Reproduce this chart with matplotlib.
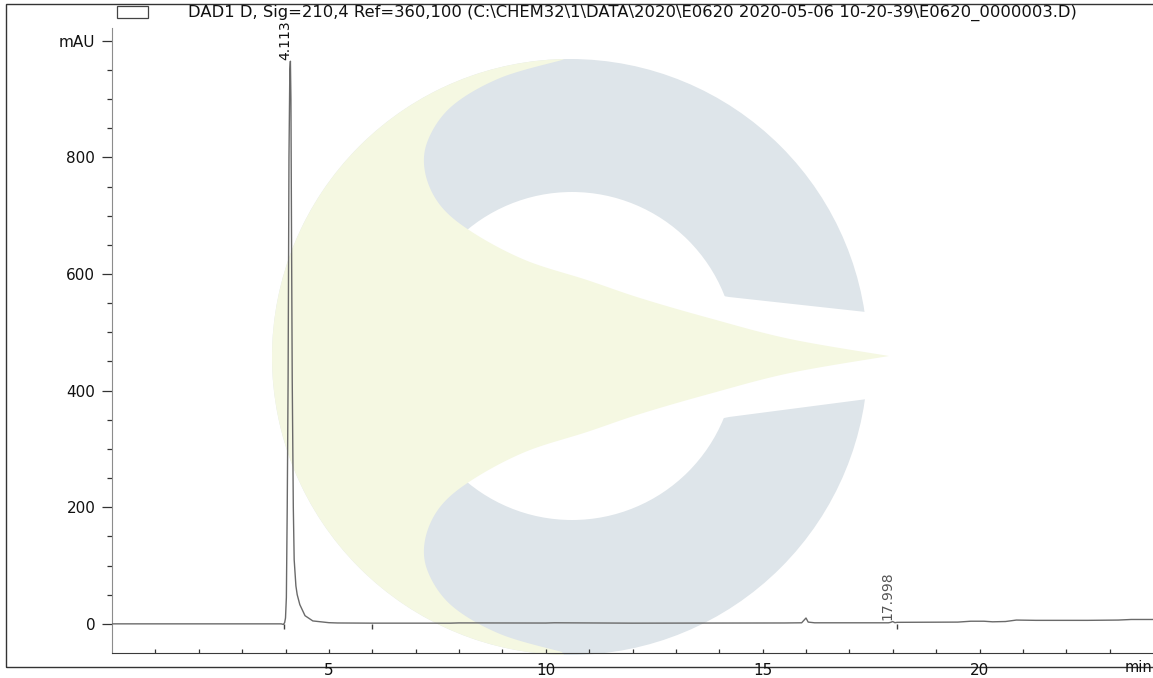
import numpy as np
import matplotlib
matplotlib.use("Agg")
import matplotlib.pyplot as plt
from matplotlib.patches import Circle, Polygon, Rectangle
from matplotlib.ticker import FixedLocator, FixedFormatter
from matplotlib.transforms import blended_transform_factory

plt.rcParams['font.family'] = ['DejaVu Sans']

# ---------------- data ----------------
title = ("DAD1 D, Sig=210,4 Ref=360,100 (C:\\CHEM32\\1\\DATA\\2020\\E0620 "
         "2020-05-06 10-20-39\\E0620_0000003.D)")

time_min = [0.0, 3.90, 3.95, 3.98, 4.00, 4.02, 4.04, 4.06, 4.08, 4.10, 4.113,
            4.125, 4.14, 4.155, 4.18, 4.20, 4.24, 4.27, 4.33, 4.45, 4.63, 5.0,
            5.2, 6.0, 7.8, 8.0, 10.0, 10.2, 12.0, 15.5, 15.9, 16.0, 16.05, 16.2,
            17.9, 17.95, 17.998, 18.05, 18.1, 19.5, 19.8, 20.1, 20.3, 20.6,
            20.85, 21.3, 22.5, 23.2, 23.5, 24.0]
signal_mau = [0.0, 0.0, -1.0, 2.0, 10.0, 45.0, 200.0, 420.0, 800.0, 950.0, 965.0,
              900.0, 650.0, 420.0, 200.0, 110.0, 65.0, 50.0, 33.0, 14.0, 5.0, 2.0,
              1.5, 1.2, 1.2, 1.6, 1.4, 1.8, 1.2, 1.5, 1.8, 10.0, 3.0, 1.8,
              1.8, 2.5, 4.0, 2.0, 2.6, 3.0, 4.5, 4.5, 3.5, 4.0,
              6.5, 6.0, 6.0, 6.5, 7.5, 7.5]

peak_times = [4.113, 17.998]
peak_heights = [965.0, 4.0]
peak_labels = ["4.113", "17.998"]
peak_label_colors = ["#111111", "#555555"]

marker_times = [3.96, 6.0, 18.09]

y_major = [0, 200, 400, 600, 800, 1000]
y_major_labels = ["0", "200", "400", "600", "800", "mAU"]
y_minor = [50, 100, 150, 250, 300, 350, 450, 500, 550, 650, 700, 750,
           850, 900, 950]
x_major = [5, 10, 15, 20]
x_minor = [1, 2, 3, 4, 6, 7, 8, 9, 11, 12, 13, 14, 16, 17, 18, 19, 21, 22, 23]


def catmull(points, n=12):
    """Smooth decorative outline through control points."""
    p = np.asarray(points, float)
    p = np.vstack([p[0], p, p[-1]])
    out = []
    for i in range(1, len(p) - 2):
        p0, p1, p2, p3 = p[i - 1], p[i], p[i + 1], p[i + 2]
        for s in np.linspace(0, 1, n, endpoint=False):
            out.append(0.5 * ((2 * p1) + (-p0 + p2) * s +
                              (2 * p0 - 5 * p1 + 4 * p2 - p3) * s ** 2 +
                              (-p0 + 3 * p1 - 3 * p2 + p3) * s ** 3))
    out.append(p[-2])
    return np.array(out)


# ---------------- figure ----------------
W, H = 1153, 678
fig = plt.figure(figsize=(W / 100, H / 100), dpi=100)

# watermark (background decoration, in figure pixel coordinates)
BLUE = "#dee5ea"
YELLOW = "#f5f8e2"
bg = fig.add_axes([0, 0, 1, 1], zorder=0)
bg.set_xlim(0, W)
bg.set_ylim(H, 0)
bg.axis("off")
cx, cy, r = 570, 357, 298
bg.add_patch(Circle((cx, cy), r, fc=BLUE, ec="none"))
bg.add_patch(Circle((572, 356), 164, fc="white", ec="none"))
bg.add_patch(Polygon([(690, 290), (729, 297), (875, 313), (875, 398),
                      (729, 417), (690, 425)], closed=True, fc="white", ec="none"))
theta = np.linspace(-np.pi / 2 - 0.02, -3 * np.pi / 2 + 0.02, 120)
arc = np.c_[cx + r * np.cos(theta), cy + r * np.sin(theta)]
upper_ctrl = [(889, 356), (790, 339), (709, 318), (640, 298), (587, 280),
              (525, 260), (472, 232), (440, 205), (425, 172), (428, 140),
              (452, 106), (500, 78), (562, 60)]
lower_ctrl = [(x, 2 * 356 - y) for x, y in upper_ctrl][::-1]
yellow = np.vstack([arc, catmull(lower_ctrl), catmull(upper_ctrl)])
bg.add_patch(Polygon(yellow, closed=True, fc=YELLOW, ec="none"))

# outer frame and legend box
fig.add_artist(Rectangle((6 / W, (H - 667) / H), 1.2, (667 - 4) / H,
                         transform=fig.transFigure, fill=False,
                         ec="#333333", lw=1.0))
fig.add_artist(Rectangle((117 / W, (H - 18) / H), 31 / W, 12 / H,
                         transform=fig.transFigure, fc="white",
                         ec="#444444", lw=0.9))
fig.text(188 / W, 1 - 12.5 / H, title, ha="left", va="center",
         fontsize=11.8, color="#111111")

# main axes
ax = fig.add_axes([112 / W, 25 / H, (W - 112) / W, (653 - 28) / H], zorder=1)
ax.patch.set_alpha(0)
ax.set_xlim(0, 24)
ax.set_ylim(-50, 1022)

ax.plot(time_min, signal_mau, color="#6a6a6a", lw=1.0, zorder=3)
ax.vlines(marker_times, -8, 0, color="#404040", lw=1.0, zorder=3)

for t, h, lab, c in zip(peak_times, peak_heights, peak_labels, peak_label_colors):
    ax.annotate(lab, (t, h), xytext=(1.5, 1), textcoords="offset points",
                rotation=90, ha="right", va="bottom", fontsize=10, color=c,
                annotation_clip=False)

for s in ["top", "right"]:
    ax.spines[s].set_visible(False)
ax.spines["left"].set_color("#8c8c8c")
ax.spines["bottom"].set_color("#3a3a3a")

ax.yaxis.set_major_locator(FixedLocator(y_major))
ax.yaxis.set_major_formatter(FixedFormatter(y_major_labels))
ax.yaxis.set_minor_locator(FixedLocator(y_minor))
ax.xaxis.set_major_locator(FixedLocator(x_major))
ax.xaxis.set_minor_locator(FixedLocator(x_minor))

ax.tick_params(axis="y", which="major", direction="out", length=7, width=0.9,
               color="#333333", pad=5, labelsize=11, labelcolor="#111111")
ax.tick_params(axis="y", which="minor", direction="out", length=3.5, width=0.9,
               color="#333333")
ax.tick_params(axis="x", which="both", direction="in", length=3, width=0.9,
               color="#333333", pad=7, labelsize=11, labelcolor="#111111")

trans = blended_transform_factory(ax.transData, ax.transAxes)
ax.text(0.999, -7 / (653 - 28), "min", transform=ax.transAxes, ha="right",
        va="top", fontsize=10.5, color="#111111")

fig.savefig("out.png", dpi=100)
